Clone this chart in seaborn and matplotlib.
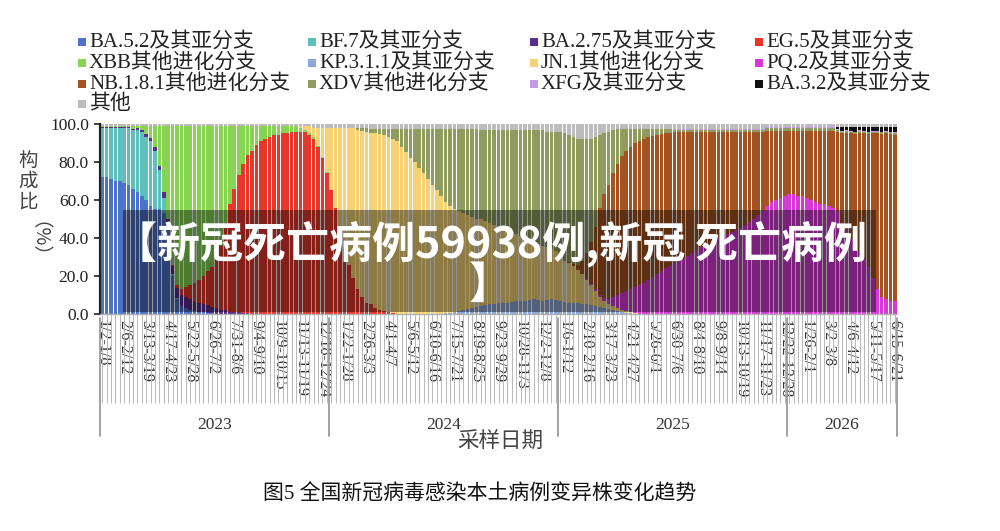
import pandas as pd
import matplotlib
matplotlib.use('Agg')
import matplotlib.pyplot as plt
import seaborn as sns
from matplotlib.patches import Rectangle
from matplotlib.transforms import blended_transform_factory

# Datos semanales (%), semana 0 = 2023-01-02
ba52 = [72, 72, 71, 70, 70, 69, 68, 66, 64, 62,
        60, 57, 55, 55, 53, 44, 20, 8, 4, 3,
        2, 1.5, 1, 1, 0.5, 0.5] + [0] * 155
bf7 = [26, 26, 27, 28, 28, 29, 30, 31, 33, 34,
       33, 34, 31, 21, 8, 3, 1, 0.5] + [0] * 163
ba275 = [0.5, 0.5, 0.5, 0.5, 0.5, 0.5, 0.5, 0.5, 1, 1,
         1.5, 1.5, 2, 2, 3, 3, 4, 5, 6, 6,
         6, 5, 5, 4, 4, 3, 3, 2, 2, 1,
         1, 1, 0.5, 0.5] + [0] * 147
eg5 = [0] * 16 + [1, 2, 3, 5, 7, 10, 12, 15, 18, 21,
                  26, 34, 46, 57, 65, 72, 78.5, 83, 86, 89,
                  91, 92, 93, 94, 94, 95, 95, 96, 96, 96,
                  96, 94, 92, 88, 82, 74, 65, 56, 45, 35,
                  26, 19, 13, 9, 6, 5, 3, 2, 1.5, 1,
                  0.5] + [0] * 114
xbb = [0.5, 0.5, 0.5, 0.5, 0.5, 0.5, 0.5, 1.5, 1, 2,
       4.5, 6.5, 11, 21, 35, 49, 73, 83.5, 86, 85,
       84, 82.5, 81, 79, 76.5, 74.5, 70, 63, 51, 41,
       33, 26, 20, 15.5, 13, 10, 8, 7, 6, 5,
       5, 4, 4, 3, 3, 2, 1, 1, 1, 0.5,
       0.5, 0.5] + [0] * 129
kp311 = [0] * 78 + [0.5, 0.5, 1, 1.5, 2, 2.5, 3, 3.5, 4, 4.5,
                    5, 5.5, 6, 6, 6, 6.5, 7, 7, 7, 7.5,
                    8, 7.5, 7, 7.5, 8, 7.5, 7, 6.5, 6, 6,
                    6, 5.5, 5, 4.5, 4, 3.5, 3, 2.5, 2, 1.5,
                    1, 0.5, 0.5] + [0] * 60
jn1 = [0] * 45 + [1, 2, 4, 5, 9.5, 15.5, 23.5, 33, 42, 53,
                  63, 72, 79, 84, 87.5, 90, 90, 92, 92.5, 92.5,
                  92, 91.5, 91, 88, 85, 82, 80, 77, 74, 71,
                  68, 65, 62, 58.5, 56.5, 54, 52.5, 51, 49.5, 48,
                  46.5, 46, 44.5, 43, 41.5, 40, 39, 38, 36.5, 35,
                  34, 33, 31.5, 30, 29.5, 29, 27.5, 26, 25.5, 24,
                  21.5, 21, 19, 17, 15.5, 13, 10.5, 8, 5.5, 4,
                  2.5, 2, 1.5, 1, 1, 0.5, 0.5] + [0] * 59
pq2 = [0] * 110 + [0.5, 1, 1, 1, 1.5, 3, 5, 7, 9, 10.5,
                   12, 13.5, 15, 16.5, 18, 19.5, 21, 22.5, 24, 25.5,
                   27, 28, 29, 30.5, 32, 33.5, 35, 36, 37, 38.5,
                   40, 41, 42, 43, 44, 45.5, 47, 48.5, 50, 52,
                   54, 57, 59, 60, 61, 62, 63, 63, 62, 62,
                   61, 60, 59, 58, 58, 57, 56, 54, 48, 44,
                   40, 36, 33, 29, 25, 19, 13, 9, 8, 7,
                   7]
nb181 = [0] * 106 + [0.5, 1.5, 3, 7, 13.5, 22, 33, 46, 54.5, 60,
                     65, 69, 72, 74, 75, 76, 76, 75.5, 75, 74,
                     73, 72, 71, 70, 69, 68, 67, 65.5, 64, 62.5,
                     61, 60, 59, 57.5, 56, 55, 54, 53, 52, 50.5,
                     49, 47.5, 46, 44, 42, 39.5, 37.5, 36.5, 35.5, 34.5,
                     33.5, 33.5, 34.5, 34.5, 35.5, 36.5, 37.5, 38.5, 38.5, 39.5,
                     40.5, 42, 47, 51, 55, 59, 62, 66, 70, 76,
                     82, 86, 87, 88, 88]
xdv = [0] * 58 + [1, 1.5, 2, 2.5, 2.5, 3, 3.5, 4.5, 5.5, 6.5,
                  9.5, 12.5, 15.5, 17.5, 20.5, 23.5, 26.5, 29.5, 32.5, 35.5,
                  38.5, 40.5, 42.5, 43.5, 44.5, 45.5, 46.5, 47.5, 47, 48,
                  49, 50, 51, 52, 53, 54, 55, 56, 57, 58,
                  59, 60, 61, 61, 62, 63, 65, 67, 66.5, 66.5,
                  66, 64, 60, 54, 47, 38, 32, 28, 23, 18.5,
                  14.5, 11.5, 9.5, 7.5, 6.5, 5.5, 4.5, 4, 3.5, 3,
                  2.5, 2,
                  1, 1, 1, 1, 1, 1, 1, 1, 1, 1,
                  1, 1, 1, 1, 1, 1, 1, 1, 1, 1,
                  1, 1.5, 1.5, 1.5, 1.5, 1.5, 1.5, 1.5, 1.5, 1.5,
                  1.5, 1.5, 1.5, 1.5, 1.5, 1.5, 1.5, 1, 1, 1,
                  1, 1, 1, 1, 1, 1, 1, 1, 1, 1,
                  1]
xfg = [0] * 130 + [0.5, 0.5, 0.5, 0.5, 0.5, 0.5, 0.5, 0.5, 0.5, 0.5,
                   0.5, 0.5, 0.5, 0.5, 0.5, 0.5, 0.5, 0.5, 0.5, 0.5,
                   0.5, 0.5, 0.5, 0.5, 0.5, 0.5, 0.5, 0.5, 0.5, 0.5,
                   0.5, 0.5, 0.5, 0.5, 0.5, 0.5, 0.5, 0.5, 0.5, 0.5,
                   0.5, 0.5, 0.5, 0.5, 0.5, 0.5, 0.5, 0.5, 0.5, 0.5,
                   0.5]
ba32 = [0] * 167 + [1, 2, 1.5, 2, 2.5, 1.5, 2, 2.5, 2, 2,
                    2.5, 2, 2.5, 3]
otros = [1, 1, 1, 1, 1, 1, 1, 1, 1, 1,
         1, 1, 1, 1, 1, 1, 1, 1, 1, 1,
         1, 1, 1, 1, 1, 1, 1, 1, 1, 1,
         1, 1, 1, 1, 1, 1, 1, 1, 1, 1,
         1, 1, 1, 1, 1, 1, 1, 1, 2, 2,
         2, 2, 2, 2, 2, 2, 2, 2, 2, 2,
         2, 2.5, 2.5, 2.5, 2.5, 2.5, 2.5, 2.5, 2.5, 2.5,
         2.5, 2.5, 2.5, 2.5, 2.5, 2.5, 2.5, 2.5, 2.5, 2.5,
         2.5, 2.5, 2.5, 2.5, 2.5, 2.5, 3, 3, 3, 3,
         3, 3, 3, 3, 3, 3, 3, 3, 3, 3,
         3, 4, 4, 4, 4, 5, 6, 7, 8, 8,
         8, 8, 7, 6, 5, 4, 3, 2.5, 2.5, 2.5,
         2.5, 2.5, 2.5, 2.5, 2.5, 2.5, 2.5, 2.5, 2.5, 2.5,
         2.5, 2.5, 2.5, 2.5, 2.5, 2.5, 2.5, 2.5, 2.5, 2.5,
         2.5, 2.5, 2.5, 2.5, 2.5, 2.5, 2.5, 2.5, 2.5, 2.5,
         2.5, 1.5, 1.5, 1.5, 1.5, 1.5, 1.5, 1.5, 1.5, 1.5,
         1.5, 1.5, 1.5, 1.5, 1.5, 1.5, 1.5, 1.5, 1.5, 1.5,
         1.5, 1.5, 1.5, 1.5, 1.5, 1.5, 1.5, 1.5, 1.5, 1.5,
         1.5]

variants = ['BA.5.2及其亚分支', 'BF.7及其亚分支', 'BA.2.75及其亚分支', 'EG.5及其亚分支',
            'XBB其他进化分支', 'KP.3.1.1及其亚分支', 'JN.1其他进化分支', 'PQ.2及其亚分支',
            'NB.1.8.1其他进化分支', 'XDV其他进化分支', 'XFG及其亚分支', 'BA.3.2及其亚分支', '其他']
series = [ba52, bf7, ba275, eg5, xbb, kp311, jn1, pq2, nb181, xdv, xfg, ba32, otros]
colors = ['#4d73c9', '#5fbfbc', '#5a2d91', '#e8372a', '#86d452', '#8ea6d6', '#f6d274',
          '#d838d8', '#a4521f', '#8f9c5e', '#c79ae6', '#111111', '#bcbcbc']

week_labels = ['1/2-1/8', '2/6-2/12', '3/13-3/19', '4/17-4/23', '5/22-5/28', '6/26-7/2',
               '7/31-8/6', '9/4-9/10', '10/9-10/15', '11/13-11/19', '12/18-12/24',
               '1/22-1/28', '2/26-3/3', '4/1-4/7', '5/6-5/12', '6/10-6/16', '7/15-7/21',
               '8/19-8/25', '9/23-9/29', '10/28-11/3', '12/2-12/8',
               '1/6-1/12', '2/10-2/16', '3/17-3/23', '4/21-4/27', '5/26-6/1', '6/30-7/6',
               '8/4-8/10', '9/8-9/14', '10/13-10/19', '11/17-11/23', '12/22-12/28',
               '1/26-2/1', '3/2-3/8', '4/6-4/12', '5/11-5/17', '6/15-6/21']
years = ['2023', '2024', '2025', '2026']
year_edges = [-0.5, 51.5, 103.5, 155.5, 180.5]

n_weeks = len(ba52)
for s in series:
    assert len(s) == n_weeks, len(s)

df = pd.DataFrame({'week': range(n_weeks)})
for name, s in zip(variants, series):
    df[name] = s
long = df.melt(id_vars='week', var_name='variant', value_name='pct')
palette = dict(zip(variants, colors))

sns.set_theme(style='white')
plt.rcParams['font.family'] = ['Liberation Serif', 'Noto Sans CJK SC']

fig = plt.figure(figsize=(10, 5.31), dpi=100)
ax = fig.add_axes([0.100, 0.4087, 0.797, 0.3578])

# seaborn apila el ultimo nivel abajo, por eso el orden invertido
sns.histplot(data=long, x='week', weights='pct', hue='variant',
             hue_order=variants[::-1], multiple='fill', discrete=True,
             shrink=0.82, palette=palette, alpha=1, linewidth=0,
             legend=False, ax=ax)

ax.set_xlim(-0.5, n_weeks - 0.5)
ax.set_ylim(0, 1)
ax.set_xlabel('')
ax.set_ylabel('')

ax.set_yticks([0, 0.2, 0.4, 0.6, 0.8, 1.0])
ax.set_yticklabels(['0.0', '20.0', '40.0', '60.0', '80.0', '100.0'], fontsize=12.5, color='#222222')
ax.tick_params(axis='y', left=True, length=4, width=1.2, color='#222222', pad=4)

ax.set_xticks(range(0, n_weeks, 5))
ax.set_xticklabels(week_labels, rotation=270, fontsize=11.5, color='#333333')
ax.set_xticks(range(n_weeks), minor=True)
ax.xaxis.remove_overlapping_locs = False
ax.tick_params(axis='x', which='major', bottom=True, length=0, pad=4)
ax.tick_params(axis='x', which='minor', bottom=True, length=64, width=0.7, color='#b8b8b8')

for side in ['top', 'right']:
    ax.spines[side].set_visible(False)
ax.spines['left'].set_color('#222222')
ax.spines['left'].set_linewidth(1.6)
ax.spines['bottom'].set_color('#b0b0b0')
ax.spines['bottom'].set_linewidth(1)

# Separadores y etiquetas de anio
trans = blended_transform_factory(ax.transData, ax.transAxes)
for e in year_edges:
    ax.plot([e, e], [-0.02, -0.64], transform=trans, color='#9a9a9a', lw=1.3, clip_on=False)
for i, y in enumerate(years):
    xc = (year_edges[i] + year_edges[i + 1]) / 2
    ax.text(xc, -0.585, y, transform=trans, ha='center', va='center', fontsize=12.5, color='#333333')

fig.text(0.500, 1 - 443 / 531, '采样日期', ha='center', va='center', fontsize=15.5, color='#444444')
fig.text(0.028, 1 - 181 / 531, '构\n成\n比', ha='center', va='center', fontsize=14,
         linespacing=1.0, color='#444444', family=['Noto Sans CJK SC'])
fig.text(0.028, 1 - 249 / 531, '（%）', ha='center', va='center', fontsize=14,
         rotation=270, color='#444444', family=['Noto Sans CJK SC'])

# Leyenda en 4 columnas, ordenada por filas
leg_x = [0.078, 0.308, 0.530, 0.755]
leg_y = [42, 63, 84, 104]
for k, name in enumerate(variants):
    r, c = divmod(k, 4)
    x = leg_x[c]
    y = 1 - leg_y[r] / 531
    fig.patches.append(Rectangle((x, y - 0.0075), 0.008, 0.015, transform=fig.transFigure,
                                 facecolor=palette[name], edgecolor='none'))
    fig.text(x + 0.011, y, name, ha='left', va='center', fontsize=15, color='#222222')

fig.text(0.480, 1 - 495 / 531, '图5 全国新冠病毒感染本土病例变异株变化趋势', ha='center', va='center',
         fontsize=15, color='#111111')

# Banda superpuesta con el titulo
fig.patches.append(Rectangle((0.123, 1 - 312 / 531), 0.753, 102 / 531, transform=fig.transFigure,
                             facecolor='black', edgecolor='none', alpha=0.42, zorder=5))
fig.text(0.490, 1 - 264 / 531, '【新冠死亡病例59938例,新冠 死亡病例\n】', ha='center', va='center',
         multialignment='center', linespacing=0.88,
         fontsize=31, fontweight='heavy', color='white', family=['Noto Sans CJK SC'], zorder=6)

fig.savefig('out.png', dpi=100)
